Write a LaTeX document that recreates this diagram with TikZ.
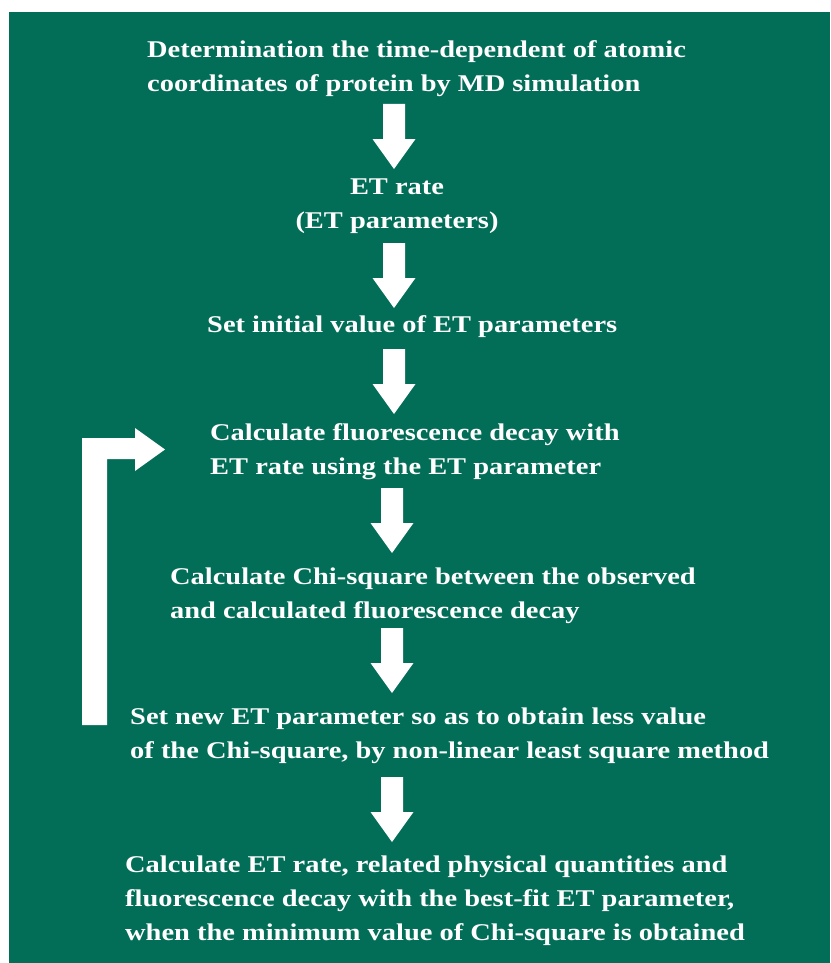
\documentclass[tikz,border=0pt]{standalone}
\usepackage{fontspec}
\setmainfont[FakeStretch=1.185]{Liberation Serif}
\definecolor{bggreen}{RGB}{3,110,88}
\begin{document}
\begin{tikzpicture}[x=1pt,y=-1pt,
  txt/.style={text=white,inner sep=0pt,anchor=north west,align=left,
    font=\fontsize{24}{34}\selectfont\bfseries},
  blockarrow/.style={fill=white,draw=none}]
\useasboundingbox (0,0) rectangle (830,963);
\fill[white] (0,0) rectangle (830,963);
\fill[bggreen] (9,12) rectangle (830,963);
% text blocks (top = baseline - 16.5)
\node[txt] (md) at (147,40.5) {Determination the time-dependent of atomic\\coordinates of protein by MD simulation};
\node[txt,align=center,anchor=north] (et) at (397,178.5) {ET rate\\(ET parameters)};
\node[txt] (init) at (207,315.5) {Set initial value of ET parameters};
\node[txt] (calc) at (210,423.5) {Calculate fluorescence decay with\\ET rate using the ET parameter};
\node[txt] (chi) at (170,567.5) {Calculate Chi-square between the observed\\and calculated fluorescence decay};
\node[txt] (new) at (130,707.5) {Set new ET parameter so as to obtain less value\\of the Chi-square, by non-linear least square method};
\node[txt] (best) at (125,855.5) {Calculate ET rate, related physical quantities and\\fluorescence decay with the best-fit ET parameter,\\when the minimum value of Chi-square is obtained};
% down block arrows
\foreach \cx/\ty in {394/104, 394/243, 394/349, 392/488, 392/628, 392/777}{
  \fill[blockarrow] (\cx-11,\ty) -- (\cx+11,\ty) -- (\cx+11,\ty+35) -- (\cx+21.5,\ty+35)
    -- (\cx,\ty+65) -- (\cx-21.5,\ty+35) -- (\cx-11,\ty+35) -- cycle;
}
% feedback arrow
\fill[blockarrow] (82,725) -- (82,438) -- (135,438) -- (135,428) -- (165,449.5)
  -- (135,471) -- (135,459) -- (107,459) -- (107,725) -- cycle;
\end{tikzpicture}
\end{document}
